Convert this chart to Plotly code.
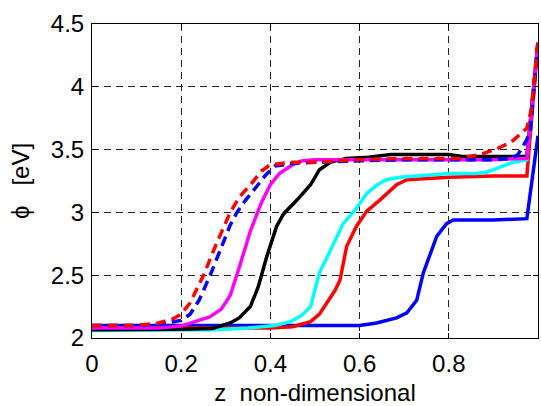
import plotly.graph_objects as go

# ---- data ----
x_blue_solid = [0, 0.40, 0.60, 0.638, 0.683, 0.706, 0.728, 0.743, 0.758, 0.773, 0.795, 0.81, 0.90, 0.975, 1.0]
y_blue_solid = [2.10, 2.10, 2.10, 2.12, 2.16, 2.20, 2.30, 2.52, 2.67, 2.81, 2.91, 2.94, 2.94, 2.95, 3.61]

x_red_solid = [0, 0.20, 0.40, 0.45, 0.49, 0.51, 0.526, 0.545, 0.556, 0.571, 0.593, 0.616, 0.646, 0.683, 0.706, 0.75, 0.80, 0.90, 0.975, 1.0]
y_red_solid = [2.08, 2.08, 2.08, 2.09, 2.13, 2.19, 2.28, 2.38, 2.46, 2.73, 2.89, 3.01, 3.10, 3.22, 3.26, 3.27, 3.28, 3.29, 3.29, 4.35]

x_cyan = [0, 0.10, 0.20, 0.27, 0.35, 0.38, 0.41, 0.445, 0.47, 0.49, 0.51, 0.535, 0.563, 0.59, 0.616, 0.64, 0.66, 0.69, 0.75, 0.80, 0.86, 0.885, 0.915, 0.945, 0.975, 1.0]
y_cyan = [2.06, 2.06, 2.06, 2.065, 2.08, 2.09, 2.10, 2.13, 2.18, 2.25, 2.52, 2.70, 2.91, 3.02, 3.15, 3.22, 3.26, 3.28, 3.30, 3.31, 3.31, 3.32, 3.36, 3.40, 3.42, 4.35]

x_black = [0, 0.10, 0.20, 0.27, 0.31, 0.33, 0.355, 0.373, 0.392, 0.414, 0.43, 0.46, 0.49, 0.51, 0.535, 0.57, 0.62, 0.67, 0.75, 0.80, 0.83, 0.90, 0.975, 1.0]
y_black = [2.065, 2.065, 2.07, 2.075, 2.12, 2.16, 2.25, 2.41, 2.65, 2.89, 2.99, 3.10, 3.22, 3.34, 3.40, 3.43, 3.44, 3.46, 3.46, 3.46, 3.445, 3.445, 3.445, 4.35]

x_magenta = [0, 0.15, 0.20, 0.24, 0.265, 0.29, 0.31, 0.33, 0.355, 0.38, 0.40, 0.42, 0.45, 0.47, 0.50, 0.60, 0.70, 0.80, 0.90, 0.975, 1.0]
y_magenta = [2.08, 2.08, 2.095, 2.14, 2.17, 2.23, 2.34, 2.56, 2.85, 3.08, 3.22, 3.31, 3.38, 3.41, 3.42, 3.42, 3.42, 3.42, 3.42, 3.43, 4.35]

x_blue_dash = [0, 0.10, 0.15, 0.20, 0.22, 0.24, 0.265, 0.29, 0.31, 0.325, 0.345, 0.37, 0.39, 0.41, 0.45, 0.50, 0.60, 0.70, 0.80, 0.90, 0.94, 0.955, 0.965, 0.975, 0.983, 1.0]
y_blue_dash = [2.10, 2.10, 2.11, 2.14, 2.19, 2.30, 2.50, 2.72, 2.90, 3.00, 3.10, 3.21, 3.30, 3.37, 3.39, 3.40, 3.41, 3.42, 3.42, 3.42, 3.43, 3.46, 3.52, 3.58, 3.66, 4.35]

x_red_dash = [0, 0.10, 0.15, 0.18, 0.20, 0.22, 0.25, 0.28, 0.31, 0.33, 0.36, 0.38, 0.40, 0.45, 0.50, 0.60, 0.70, 0.82, 0.87, 0.91, 0.94, 0.975, 0.985, 0.995, 1.0]
y_red_dash = [2.10, 2.10, 2.12, 2.15, 2.19, 2.28, 2.50, 2.76, 3.00, 3.12, 3.24, 3.33, 3.38, 3.40, 3.40, 3.42, 3.43, 3.43, 3.46, 3.51, 3.56, 3.67, 3.82, 4.19, 4.37]

x_ticks = [0, 0.2, 0.4, 0.6, 0.8, 1]
x_tick_labels = ["0", "0.2", "0.4", "0.6", "0.8", "1"]
y_ticks = [2, 2.5, 3, 3.5, 4, 4.5]
y_tick_labels = ["2", "2.5", "3", "3.5", "4", "4.5"]

series = [
    (x_blue_solid, y_blue_solid, "#0000ff", "solid"),
    (x_red_solid, y_red_solid, "#ff0000", "solid"),
    (x_cyan, y_cyan, "#00ffff", "solid"),
    (x_black, y_black, "#000000", "solid"),
    (x_magenta, y_magenta, "#ff00ff", "solid"),
    (x_blue_dash, y_blue_dash, "#0000ff", "10px,6px"),
    (x_red_dash, y_red_dash, "#ff0000", "10px,6px"),
]

fig = go.Figure()
for xs, ys, col, dash in series:
    fig.add_trace(go.Scatter(x=xs, y=ys, mode="lines",
                             line=dict(color=col, width=3.5, dash=dash),
                             showlegend=False, hoverinfo="skip"))

axis_common = dict(
    showline=True, linecolor="black", linewidth=1, mirror="ticks",
    ticks="inside", ticklen=5, tickcolor="black",
    showgrid=True, gridcolor="#222222", gridwidth=1, griddash="7px,5px",
    zeroline=False,
    tickfont=dict(family="Liberation Sans, Arial", size=24, color="black"),
    title_font=dict(family="Liberation Sans, Arial", size=24, color="black"),
)

fig.update_xaxes(range=[0, 1], tickvals=x_ticks, ticktext=x_tick_labels,
                 ticklabelstandoff=4,
                 title_text="z  non-dimensional", title_standoff=8, **axis_common)
fig.update_yaxes(range=[2, 4.5], tickvals=y_ticks, ticktext=y_tick_labels,
                 ticklabelstandoff=2,
                 title_text="ϕ   [eV]", title_standoff=14, **axis_common)

fig.update_layout(
    width=541, height=406,
    margin=dict(l=92, r=3, t=24, b=68),
    paper_bgcolor="white", plot_bgcolor="white",
)

fig.write_html("out.html")
